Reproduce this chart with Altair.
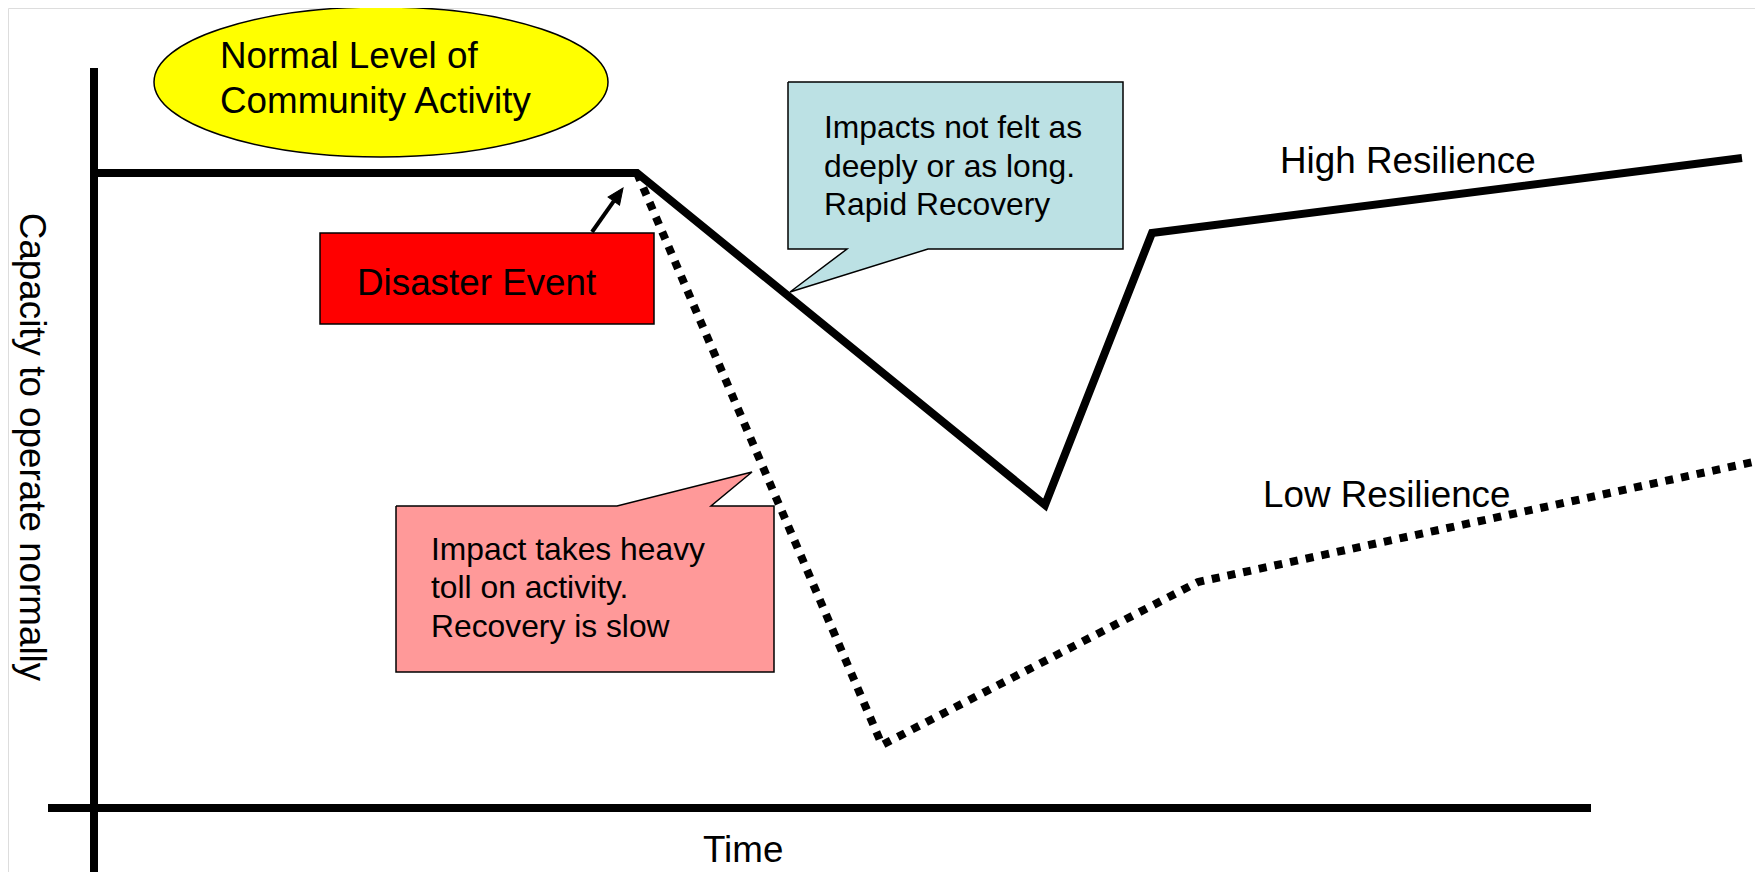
import altair as alt
import pandas as pd

# ---------------- data (time t, capacity c) ----------------
high_t = [0, 54.3, 95.1, 105.8, 164.8]
high_c = [63.5, 63.5, 30.3, 57.5, 65.0]
low_t = [54.3, 78.8, 110.4, 165.9]
low_c = [63.5, 6.3, 22.6, 34.6]

# axis lines
y_axis = {"t": 0.0, "c": -6.4, "c2": 74.0}
x_axis = {"c": 0.0, "t": -4.6, "t2": 149.7}

# ellipse "Normal Level of Community Activity"
ell_center = {"t": 28.7, "c": 72.6}
ell_lines = ["Normal Level of", "Community Activity"]
ell_text_t = [12.6, 12.6]
ell_text_c = [74.0, 69.5]

# red box "Disaster Event"
box = {"t": 22.6, "t2": 56.0, "c": 57.5, "c2": 48.4}
box_text = {"t": 26.3, "c": 51.3, "label": "Disaster Event"}
arrow_t = [49.8, 51.98]
arrow_c = [57.6, 60.69]

# blue callout
blue_t = [69.4, 102.9, 102.9, 83.4, 69.6, 75.3, 69.4, 69.4]
blue_c = [72.6, 72.6, 55.9, 55.9, 51.6, 55.9, 55.9, 72.6]
blue_lines = ["Impacts not felt as", "deeply or as long.", "Rapid Recovery"]
blue_text_t = [73.0, 73.0, 73.0]
blue_text_c = [67.0, 63.1, 59.3]

# pink callout
pink_t = [30.2, 52.3, 65.8, 61.7, 68.0, 68.0, 30.2, 30.2]
pink_c = [30.2, 30.2, 33.6, 30.2, 30.2, 13.6, 13.6, 30.2]
pink_lines = ["Impact takes heavy", "toll on activity.", "Recovery is slow"]
pink_text_t = [33.7, 33.7, 33.7]
pink_text_c = [24.8, 21.0, 17.1]

# series labels
series_labels = ["High Resilience", "Low Resilience"]
series_label_t = [118.6, 116.9]
series_label_c = [63.5, 30.1]

x_title = {"t": 60.9, "c": -5.4, "label": "Time"}
y_title = {"t": -6.3, "c": 36.1, "label": "Capacity to operate normally"}

# ---------------- scales ----------------
W, H = 1747, 864
xs = alt.Scale(domain=[-8.6, 166.1], nice=False, zero=False)
ys = alt.Scale(domain=[-6.4, 80.0], nice=False, zero=False)
X = lambda f="t": alt.X(f"{f}:Q", scale=xs, axis=None)
Y = lambda f="c": alt.Y(f"{f}:Q", scale=ys, axis=None)
FONT = "Liberation Sans"
BIG = 36.8
SMALL = 31.8


def df(**cols):
    return pd.DataFrame(cols)


layers = []

# axes
layers.append(
    alt.Chart(pd.DataFrame([y_axis])).mark_rule(color="black", strokeWidth=8, strokeCap="butt")
    .encode(x=X(), y=Y(), y2="c2:Q")
)
layers.append(
    alt.Chart(pd.DataFrame([x_axis])).mark_rule(color="black", strokeWidth=8, strokeCap="butt")
    .encode(x=X(), x2="t2:Q", y=Y())
)

# resilience lines
layers.append(
    alt.Chart(df(t=high_t, c=high_c, i=list(range(len(high_t)))))
    .mark_line(color="black", strokeWidth=8, strokeCap="butt", strokeJoin="miter")
    .encode(x=X(), y=Y(), order="i:Q")
)
layers.append(
    alt.Chart(df(t=low_t, c=low_c, i=list(range(len(low_t)))))
    .mark_line(color="black", strokeWidth=8, strokeCap="butt", strokeDash=[8, 8])
    .encode(x=X(), y=Y(), order="i:Q")
)

# ellipse
rx, ry = 227.0, 75.0
ellipse_path = f"M-1,0 A1,{ry/rx:.4f} 0 1,0 1,0 A1,{ry/rx:.4f} 0 1,0 -1,0 Z"
layers.append(
    alt.Chart(pd.DataFrame([ell_center]))
    .mark_point(shape=ellipse_path, size=(2 * rx) ** 2, filled=True, fill="#FFFF00",
                stroke="black", strokeWidth=1.5, opacity=1)
    .encode(x=X(), y=Y())
)
layers.append(
    alt.Chart(df(t=ell_text_t, c=ell_text_c, label=ell_lines))
    .mark_text(font=FONT, fontSize=BIG, align="left", baseline="alphabetic", color="black")
    .encode(x=X(), y=Y(), text="label:N")
)

# disaster box
layers.append(
    alt.Chart(pd.DataFrame([box]))
    .mark_rect(fill="#FF0000", stroke="black", strokeWidth=1.5)
    .encode(x=X(), x2="t2:Q", y=Y(), y2="c2:Q")
)
layers.append(
    alt.Chart(pd.DataFrame([box_text]))
    .mark_text(font=FONT, fontSize=BIG, align="left", baseline="alphabetic", color="black")
    .encode(x=X(), y=Y(), text="label:N")
)

# arrow
arrow_df = df(t=[arrow_t[0]], c=[arrow_c[0]], t2=[arrow_t[1]], c2=[arrow_c[1]])
layers.append(
    alt.Chart(arrow_df).mark_rule(color="black", strokeWidth=4, strokeCap="butt")
    .encode(x=X(), y=Y(), x2="t2:Q", y2="c2:Q")
)
layers.append(
    alt.Chart(df(t=[arrow_t[1]], c=[arrow_c[1]]))
    .mark_point(shape="M0,-1.6 L0.7,0 L-0.7,0 Z", size=400, filled=True, fill="black",
                stroke="black", strokeWidth=1, opacity=1, angle=35.2)
    .encode(x=X(), y=Y())
)

# callouts
for pt, pc, col in [(blue_t, blue_c, "#BCE1E4"), (pink_t, pink_c, "#FF9999")]:
    layers.append(
        alt.Chart(df(t=pt, c=pc, i=list(range(len(pt)))))
        .mark_line(fill=col, stroke="black", strokeWidth=1.5, strokeJoin="miter")
        .encode(x=X(), y=Y(), order="i:Q")
    )
for tt, tc, lines in [(blue_text_t, blue_text_c, blue_lines), (pink_text_t, pink_text_c, pink_lines)]:
    layers.append(
        alt.Chart(df(t=tt, c=tc, label=lines))
        .mark_text(font=FONT, fontSize=SMALL, align="left", baseline="alphabetic", color="black")
        .encode(x=X(), y=Y(), text="label:N")
    )

# series labels and axis titles
layers.append(
    alt.Chart(df(t=series_label_t, c=series_label_c, label=series_labels))
    .mark_text(font=FONT, fontSize=BIG, align="left", baseline="alphabetic", color="black")
    .encode(x=X(), y=Y(), text="label:N")
)
layers.append(
    alt.Chart(pd.DataFrame([x_title]))
    .mark_text(font=FONT, fontSize=BIG, align="left", baseline="alphabetic", color="black")
    .encode(x=X(), y=Y(), text="label:N")
)
layers.append(
    alt.Chart(pd.DataFrame([y_title]))
    .mark_text(font=FONT, fontSize=BIG, align="center", baseline="middle", angle=90, color="black")
    .encode(x=X(), y=Y(), text="label:N")
)

chart = (
    alt.layer(*layers)
    .properties(width=W, height=H, padding=0, autosize=alt.AutoSizeParams(type="none"))
    .configure_view(strokeWidth=0, stroke="transparent")
    .configure(background="white")
)

chart.save("out.html", embed_options={"renderer": "svg", "actions": False})
